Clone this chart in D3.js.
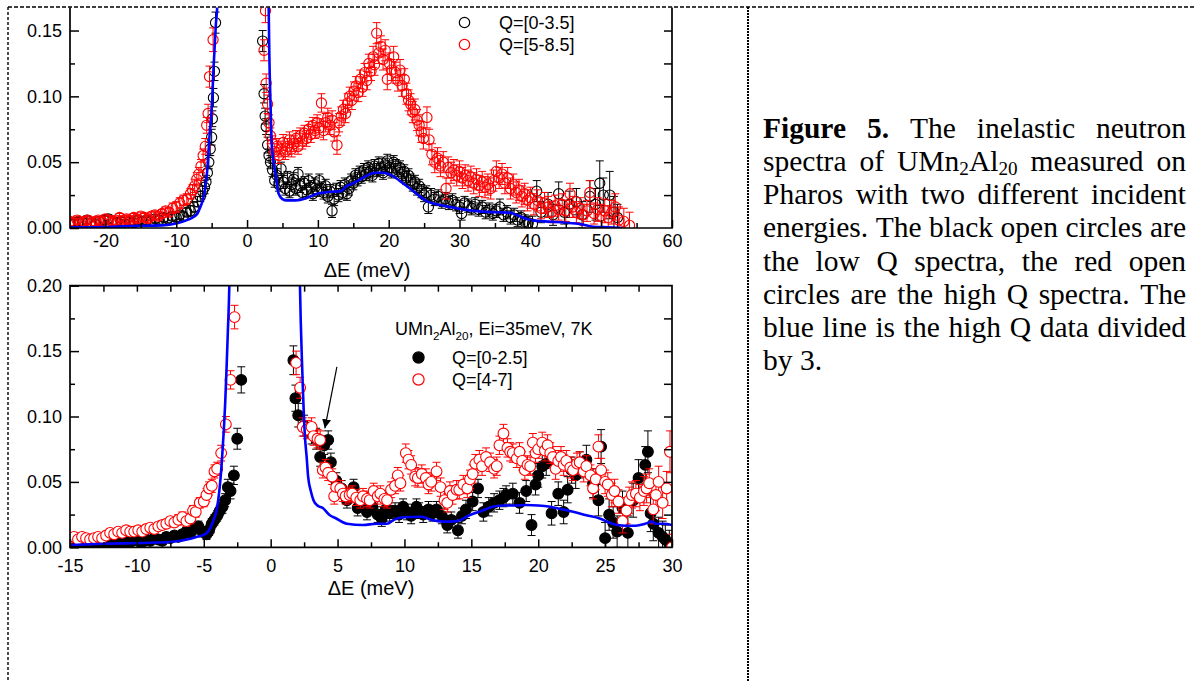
<!DOCTYPE html>
<html>
<head>
<meta charset="utf-8">
<script src="https://cdn.jsdelivr.net/npm/d3@7"></script>
<style>
  body { margin: 0; background: #fff; }
  svg { display: block; }
</style>
</head>
<body>
<svg id="fig" width="1194" height="681"></svg>
<script>
// ---- data: [energy transfer (meV), intensity, error] ----

// upper panel, Q=[0-3.5] (black open circles)
const topLowQ = [
  [-25,0.004,0.003],[-24.4,0.003,0.003],[-23.8,0.005,0.003],[-23.2,0.004,0.003],[-22.6,0.006,0.003],[-22,0.004,0.003],
  [-21.4,0.003,0.003],[-20.8,0.005,0.003],[-20.2,0.006,0.003],[-19.6,0.007,0.003],[-19,0.005,0.003],[-18.4,0.004,0.003],
  [-17.8,0.005,0.003],[-17.2,0.003,0.003],[-16.6,0.005,0.003],[-16,0.004,0.003],[-15.4,0.006,0.003],[-14.8,0.005,0.003],
  [-14.2,0.006,0.003],[-13.6,0.005,0.003],[-13,0.007,0.003],[-12.4,0.006,0.003],[-11.8,0.008,0.003],[-11.2,0.007,0.003],
  [-10.6,0.009,0.003],[-10,0.008,0.003],[-9.5,0.010,0.003],[-9,0.009,0.003],[-8.5,0.012,0.003],[-8,0.013,0.004],
  [-7.5,0.016,0.004],[-7,0.020,0.004],[-6.6,0.024,0.004],[-6.3,0.028,0.004],[-6,0.031,0.005],[-5.8,0.035,0.005],
  [-5.6,0.042,0.005],[-5.4,0.050,0.005],[-5.2,0.060,0.005],[-5.0,0.069,0.006],[-4.9,0.083,0.006],[-4.75,0.099,0.007],
  [-4.6,0.119,0.007],[-4.45,0.156,0.008],
  [2.2,0.142,0.008],[2.4,0.102,0.007],[2.55,0.085,0.006],[2.7,0.077,0.006],[2.9,0.063,0.006],[3.1,0.055,0.005],
  [3.3,0.050,0.005],[3.6,0.044,0.005],[3.9,0.036,0.005],[4.2,0.040,0.005],[4.5,0.033,0.005],[4.8,0.045,0.005],
  [5.1,0.035,0.005],[5.4,0.030,0.005],[5.7,0.038,0.005],[6.0,0.028,0.005],[6.3,0.033,0.005],[6.6,0.037,0.005],
  [6.9,0.030,0.005],[7.2,0.041,0.005],[7.5,0.032,0.005],[7.8,0.027,0.005],[8.1,0.034,0.005],[8.4,0.029,0.005],
  [8.7,0.036,0.005],[9.0,0.031,0.005],[9.3,0.026,0.005],[9.6,0.033,0.005],[9.9,0.029,0.005],[10.2,0.036,0.005],
  [10.5,0.030,0.005],[10.8,0.027,0.005],[11.1,0.032,0.005],[11.4,0.024,0.005],[11.7,0.028,0.005],[12.0,0.013,0.005],
  [12.3,0.022,0.005],[12.6,0.029,0.005],[12.9,0.025,0.005],[13.2,0.031,0.005],[13.5,0.027,0.005],[13.8,0.033,0.005],
  [14.1,0.026,0.005],[14.4,0.030,0.005],[14.7,0.036,0.005],[15.0,0.034,0.005],[15.3,0.040,0.005],[15.6,0.037,0.005],
  [15.9,0.042,0.005],[16.2,0.039,0.005],[16.5,0.044,0.005],[16.8,0.041,0.005],[17.1,0.046,0.005],[17.4,0.043,0.005],
  [17.7,0.040,0.005],[18.0,0.047,0.005],[18.3,0.044,0.005],[18.6,0.049,0.005],[18.9,0.045,0.005],[19.2,0.042,0.005],
  [19.5,0.048,0.005],[19.8,0.051,0.005],[20.1,0.046,0.005],[20.4,0.043,0.005],[20.7,0.050,0.005],[21.0,0.047,0.005],
  [21.3,0.044,0.005],[21.6,0.046,0.005],[21.9,0.041,0.005],[22.2,0.043,0.005],[22.5,0.038,0.005],[22.8,0.040,0.005],
  [23.1,0.036,0.005],[23.4,0.033,0.005],[23.7,0.035,0.005],[24.0,0.030,0.005],[24.3,0.032,0.005],[24.6,0.028,0.005],
  [25.0,0.025,0.005],[25.3,0.027,0.005],[25.6,0.016,0.005],[26.0,0.025,0.005],[26.5,0.022,0.005],[27.0,0.024,0.005],
  [27.5,0.020,0.005],[28.0,0.022,0.005],[28.5,0.019,0.005],[29.0,0.021,0.005],[29.5,0.018,0.005],[30.0,0.016,0.005],
  [30.3,0.011,0.005],[30.7,0.019,0.005],[31.2,0.017,0.005],[31.7,0.015,0.005],[32.2,0.018,0.005],[32.7,0.014,0.005],
  [33.2,0.016,0.005],[33.7,0.012,0.005],[34.2,0.014,0.005],[34.7,0.011,0.005],[35.2,0.013,0.005],[35.7,0.016,0.006],
  [36.2,0.010,0.005],[36.7,0.012,0.005],[37.2,0.008,0.005],[37.7,0.010,0.005],[38.2,0.006,0.005],[38.7,0.008,0.005],
  [39.2,0.005,0.005],[39.7,0.004,0.005],[40.3,0.003,0.006],[40.9,0.028,0.008],[41.5,0.012,0.008],[42.5,0.018,0.009],
  [43.2,0.010,0.008],[44.0,0.026,0.009],[44.8,0.012,0.009],[45.5,0.018,0.010],[46.5,0.020,0.010],[47.3,0.010,0.010],
  [48.4,0.024,0.012],[49.2,0.018,0.012],[49.8,0.034,0.017],[50.3,0.025,0.013],[51.2,0.025,0.018],[51.8,0.012,0.012],
  [52.3,0.008,0.010]
];

// upper panel, Q=[5-8.5] (red open circles)
const topHighQ = [
  [-25,0.005,0.003],[-24.5,0.004,0.003],[-24,0.006,0.003],[-23.5,0.004,0.003],[-23,0.005,0.003],[-22.5,0.006,0.003],
  [-22,0.004,0.003],[-21.5,0.005,0.003],[-21,0.006,0.003],[-20.5,0.005,0.003],[-20,0.007,0.003],[-19.5,0.006,0.003],
  [-19,0.005,0.003],[-18.5,0.006,0.003],[-18,0.008,0.003],[-17.5,0.006,0.003],[-17,0.007,0.003],[-16.5,0.006,0.003],
  [-16,0.008,0.003],[-15.5,0.007,0.003],[-15,0.009,0.003],[-14.5,0.008,0.003],[-14,0.007,0.003],[-13.5,0.009,0.003],
  [-13,0.010,0.003],[-12.5,0.009,0.003],[-12,0.011,0.003],[-11.5,0.013,0.003],[-11,0.012,0.003],[-10.5,0.015,0.004],
  [-10,0.016,0.004],[-9.5,0.019,0.004],[-9,0.021,0.004],[-8.5,0.022,0.004],[-8,0.026,0.004],[-7.7,0.029,0.004],
  [-7.4,0.032,0.005],[-7.1,0.037,0.005],[-6.8,0.041,0.005],[-6.5,0.047,0.005],[-6.2,0.055,0.005],[-5.9,0.062,0.006],
  [-5.7,0.078,0.006],[-5.5,0.087,0.007],[-5.3,0.115,0.008],[-4.8,0.143,0.009],
  [2.4,0.135,0.008],[2.6,0.165,0.009],[2.7,0.110,0.007],[2.9,0.094,0.007],[3.1,0.080,0.006],[3.3,0.070,0.006],
  [3.6,0.064,0.006],[3.9,0.058,0.006],[4.2,0.062,0.006],[4.5,0.055,0.006],[4.8,0.060,0.006],[5.1,0.065,0.006],
  [5.4,0.058,0.006],[5.7,0.062,0.006],[6.0,0.067,0.006],[6.3,0.060,0.006],[6.6,0.064,0.006],[6.9,0.068,0.006],
  [7.2,0.062,0.006],[7.5,0.070,0.006],[7.8,0.066,0.006],[8.1,0.072,0.006],[8.4,0.068,0.006],[8.7,0.075,0.006],
  [9.0,0.071,0.006],[9.3,0.078,0.006],[9.6,0.074,0.006],[9.9,0.080,0.006],[10.2,0.076,0.007],[10.5,0.095,0.007],
  [10.8,0.074,0.007],[11.1,0.080,0.007],[11.4,0.084,0.007],[11.7,0.078,0.007],[12.0,0.082,0.007],[12.3,0.073,0.007],
  [12.7,0.063,0.007],[13.0,0.080,0.007],[13.3,0.085,0.007],[13.6,0.090,0.007],[13.9,0.087,0.007],[14.2,0.095,0.007],
  [14.5,0.100,0.007],[14.8,0.097,0.007],[15.1,0.104,0.007],[15.4,0.108,0.007],[15.7,0.103,0.007],[16.0,0.113,0.007],
  [16.3,0.107,0.007],[16.6,0.118,0.007],[16.9,0.112,0.007],[17.2,0.125,0.007],[17.5,0.119,0.007],[17.8,0.130,0.008],
  [18.0,0.124,0.008],[18.3,0.148,0.008],[18.6,0.133,0.008],[18.9,0.138,0.008],[19.2,0.128,0.008],[19.5,0.135,0.008],
  [19.8,0.113,0.008],[20.1,0.125,0.008],[20.4,0.120,0.008],[20.7,0.130,0.008],[21.0,0.118,0.008],[21.3,0.112,0.008],
  [21.6,0.120,0.008],[21.9,0.108,0.008],[22.2,0.113,0.008],[22.5,0.102,0.008],[22.8,0.097,0.008],[23.1,0.094,0.008],
  [23.4,0.088,0.008],[23.7,0.090,0.008],[24.0,0.082,0.008],[24.3,0.078,0.008],[24.6,0.073,0.008],[24.9,0.068,0.008],
  [25.4,0.084,0.008],[25.7,0.067,0.008],[26.1,0.056,0.008],[26.5,0.050,0.008],[26.9,0.053,0.008],[27.3,0.047,0.008],
  [27.7,0.050,0.008],[28.1,0.030,0.008],[28.4,0.046,0.008],[28.8,0.042,0.008],[29.2,0.044,0.008],[29.6,0.040,0.008],
  [30.0,0.043,0.008],[30.4,0.038,0.008],[30.8,0.040,0.008],[31.2,0.036,0.008],[31.6,0.039,0.008],[32.0,0.034,0.008],
  [32.4,0.037,0.008],[32.8,0.032,0.008],[33.2,0.035,0.008],[33.6,0.031,0.008],[34.0,0.033,0.008],[34.4,0.030,0.008],
  [34.8,0.036,0.008],[35.2,0.043,0.008],[35.6,0.038,0.008],[36.0,0.041,0.008],[36.4,0.034,0.008],[36.8,0.038,0.008],
  [37.2,0.030,0.008],[37.6,0.033,0.008],[38.0,0.027,0.008],[38.4,0.029,0.008],[38.8,0.024,0.008],[39.2,0.026,0.008],
  [39.6,0.021,0.008],[40.0,0.023,0.008],[40.5,0.018,0.008],[41.0,0.021,0.008],[41.5,0.015,0.008],[42.0,0.019,0.008],
  [42.5,0.016,0.008],[43.0,0.012,0.008],[43.5,0.017,0.008],[44.0,0.014,0.008],[44.5,0.018,0.008],[45.0,0.013,0.008],
  [45.6,0.026,0.008],[46.0,0.016,0.008],[46.5,0.012,0.008],[47.0,0.015,0.008],[47.5,0.010,0.008],[48.0,0.013,0.008],
  [48.4,0.027,0.009],[49.0,0.011,0.008],[49.5,0.014,0.009],[50.0,0.009,0.009],[50.5,0.013,0.009],[51.0,0.008,0.009],
  [51.5,0.012,0.009],[52.0,0.016,0.010],[52.5,0.006,0.010],[53.2,0.005,0.010],[54.0,0.002,0.010]
];

// upper panel, high Q divided by 3 (blue line), two branches either side of the elastic line
const topBlueNeg = [
  [-25,0.0005],[-20,0.0008],[-16.9,0.0015],[-12,0.002],[-9.9,0.0036],[-8.5,0.006],[-7.5,0.0086],[-7.0,0.011],
  [-6.6,0.016],[-6.2,0.022],[-5.9,0.031],[-5.6,0.045],[-5.3,0.07],[-5.0,0.09],[-4.7,0.125],[-4.4,0.155],
  [-4.2,0.17],[-4.0,0.22]
];
const topBluePos = [
  [2.95,0.22],[3.05,0.168],[3.15,0.13],[3.3,0.097],[3.5,0.062],[3.75,0.05],[4.0,0.0416],[4.46,0.026],[5.0,0.022],
  [5.6,0.021],[6.9,0.021],[8.5,0.023],[9.9,0.026],[11,0.027],[12.2,0.0276],[13.2,0.028],[14.1,0.032],[15,0.034],
  [16,0.037],[17,0.040],[18,0.042],[19,0.042],[20,0.041],[21,0.038],[22,0.034],[23,0.030],[24.4,0.024],
  [25.5,0.020],[27.3,0.0175],[29.6,0.015],[32,0.013],[35,0.012],[37,0.0117],[38.5,0.009],[40,0.006],[42,0.005],
  [45,0.004],[47,0.003],[48.9,0.001],[51,0.0005],[53,0]
];

// lower panel, Q=[0-2.5] (black filled circles)
const botLowQ = [
  [-15,0.003,0.003],[-14.7,0.004,0.003],[-14.4,0.002,0.003],[-14.1,0.004,0.003],[-13.8,0.003,0.003],[-13.5,0.003,0.003],
  [-13.2,0.002,0.003],[-12.9,0.004,0.003],[-12.6,0.003,0.003],[-12.3,0.004,0.003],[-12,0.003,0.003],[-11.7,0.005,0.003],
  [-11.4,0.004,0.003],[-11.1,0.003,0.003],[-10.8,0.005,0.003],[-10.5,0.004,0.003],[-10.2,0.006,0.003],[-9.9,0.005,0.003],
  [-9.6,0.004,0.003],[-9.3,0.006,0.003],[-9,0.005,0.003],[-8.7,0.007,0.003],[-8.4,0.006,0.003],[-8.1,0.005,0.003],
  [-7.8,0.008,0.003],[-7.5,0.007,0.003],[-7.2,0.009,0.003],[-6.9,0.008,0.003],[-6.6,0.010,0.003],[-6.3,0.012,0.003],
  [-6.0,0.011,0.003],[-5.7,0.014,0.003],[-5.4,0.016,0.004],[-5.1,0.012,0.004],[-4.8,0.010,0.004],[-4.6,0.013,0.004],
  [-4.4,0.018,0.004],[-4.2,0.021,0.004],[-4.0,0.024,0.004],[-3.8,0.028,0.004],[-3.6,0.031,0.005],[-3.4,0.036,0.005],
  [-3.2,0.046,0.006],[-3.0,0.043,0.006],[-2.75,0.055,0.007],[-2.5,0.083,0.008],[-2.2,0.128,0.010],
  [1.7,0.143,0.011],[1.85,0.114,0.010],[2.06,0.101,0.009],[2.5,0.093,0.008],[3.06,0.087,0.008],[3.4,0.083,0.008],
  [3.7,0.069,0.007],[4.0,0.078,0.007],[4.3,0.082,0.007],[4.5,0.065,0.007],[4.9,0.051,0.006],[5.3,0.045,0.006],
  [5.7,0.036,0.006],[6.2,0.046,0.006],[6.5,0.030,0.006],[6.9,0.033,0.006],[7.2,0.027,0.006],[7.6,0.031,0.006],
  [8.0,0.025,0.006],[8.3,0.022,0.006],[8.6,0.029,0.006],[8.9,0.026,0.006],[9.3,0.028,0.006],[9.6,0.025,0.006],
  [9.9,0.031,0.006],[10.2,0.027,0.006],[10.5,0.024,0.006],[10.9,0.031,0.006],[11.1,0.028,0.006],[11.4,0.025,0.006],
  [11.8,0.029,0.006],[12.1,0.026,0.006],[12.4,0.029,0.006],[12.8,0.024,0.006],[13.2,0.017,0.006],[13.5,0.021,0.006],
  [14.0,0.013,0.006],[14.3,0.024,0.006],[14.6,0.029,0.007],[15.1,0.035,0.007],[15.5,0.045,0.007],[15.9,0.027,0.007],
  [16.3,0.031,0.007],[16.7,0.034,0.007],[17.1,0.036,0.007],[17.4,0.038,0.007],[17.6,0.040,0.007],[18.1,0.041,0.008],
  [18.6,0.034,0.008],[19.1,0.043,0.008],[19.5,0.017,0.008],[19.8,0.048,0.008],[20.0,0.055,0.009],[20.3,0.062,0.009],
  [20.6,0.064,0.009],[21.0,0.026,0.009],[21.5,0.041,0.009],[21.9,0.027,0.009],[22.2,0.044,0.010],[22.5,0.059,0.010],
  [22.8,0.055,0.010],[23.1,0.063,0.010],[23.6,0.067,0.011],[24.1,0.049,0.011],[24.5,0.036,0.012],[24.7,0.077,0.013],
  [25.0,0.007,0.012],[25.3,0.025,0.012],[25.6,0.019,0.012],[25.9,0.012,0.012],[26.3,0.030,0.013],[26.7,0.011,0.013],
  [27.1,0.036,0.013],[27.5,0.053,0.014],[28.0,0.063,0.014],[28.2,0.073,0.016],[28.4,0.026,0.014],[28.6,0.018,0.013],
  [29.0,0.011,0.012],[29.3,0.008,0.012],[29.5,0.006,0.011],[29.8,0.003,0.010]
];

// lower panel, Q=[4-7] (red open circles)
const botHighQ = [
  [-15,0.007,0.003],[-14.7,0.008,0.003],[-14.4,0.006,0.003],[-14.1,0.008,0.003],[-13.8,0.007,0.003],[-13.5,0.006,0.003],
  [-13.2,0.007,0.003],[-12.9,0.008,0.003],[-12.6,0.007,0.003],[-12.3,0.009,0.003],[-12,0.011,0.003],[-11.7,0.010,0.003],
  [-11.4,0.012,0.003],[-11.1,0.011,0.003],[-10.8,0.013,0.003],[-10.5,0.012,0.003],[-10.2,0.012,0.003],[-9.9,0.013,0.003],
  [-9.6,0.012,0.003],[-9.3,0.014,0.003],[-9,0.015,0.003],[-8.7,0.014,0.003],[-8.4,0.016,0.003],[-8.1,0.017,0.003],
  [-7.8,0.018,0.003],[-7.5,0.020,0.003],[-7.2,0.019,0.003],[-6.9,0.021,0.004],[-6.6,0.023,0.004],[-6.3,0.020,0.004],
  [-6.0,0.022,0.004],[-5.8,0.028,0.004],[-5.6,0.027,0.004],[-5.3,0.034,0.004],[-5.0,0.035,0.004],[-4.8,0.040,0.005],
  [-4.6,0.045,0.005],[-4.4,0.047,0.005],[-4.2,0.058,0.005],[-4.0,0.060,0.005],[-3.7,0.072,0.006],[-3.35,0.094,0.006],
  [-3.0,0.128,0.007],[-2.7,0.176,0.009],
  [1.9,0.141,0.009],[2.2,0.122,0.008],[2.4,0.092,0.007],[2.7,0.090,0.007],[3.06,0.092,0.007],[3.2,0.085,0.007],
  [3.5,0.083,0.007],[3.7,0.082,0.007],[3.9,0.059,0.006],[4.1,0.061,0.006],[4.3,0.057,0.006],[4.6,0.054,0.006],
  [4.75,0.039,0.006],[4.9,0.046,0.006],[5.2,0.045,0.006],[5.4,0.041,0.006],[5.6,0.039,0.006],[5.9,0.040,0.006],
  [6.1,0.041,0.006],[6.4,0.038,0.006],[6.7,0.036,0.006],[6.9,0.039,0.006],[7.2,0.037,0.006],[7.4,0.036,0.006],
  [7.7,0.043,0.006],[8.0,0.039,0.006],[8.2,0.041,0.006],[8.5,0.037,0.006],[8.7,0.036,0.006],[9.0,0.044,0.006],
  [9.3,0.047,0.006],[9.5,0.055,0.006],[9.7,0.049,0.006],[10.1,0.072,0.007],[10.3,0.067,0.007],[10.5,0.063,0.007],
  [10.8,0.054,0.007],[11.0,0.053,0.007],[11.3,0.056,0.007],[11.6,0.053,0.007],[11.8,0.048,0.007],[12.0,0.050,0.007],
  [12.4,0.058,0.007],[12.7,0.046,0.007],[13.0,0.036,0.007],[13.2,0.034,0.007],[13.4,0.043,0.007],[13.6,0.040,0.007],
  [13.9,0.044,0.007],[14.1,0.044,0.007],[14.4,0.048,0.007],[14.7,0.045,0.007],[14.9,0.052,0.007],[15.1,0.056,0.007],
  [15.3,0.064,0.007],[15.6,0.067,0.007],[15.8,0.062,0.007],[16.1,0.069,0.007],[16.4,0.065,0.007],[16.7,0.060,0.007],
  [16.9,0.062,0.007],[17.1,0.078,0.007],[17.4,0.087,0.007],[17.7,0.076,0.007],[17.9,0.073,0.007],[18.1,0.072,0.007],
  [18.4,0.068,0.007],[18.6,0.073,0.007],[18.8,0.066,0.007],[19.0,0.059,0.007],[19.2,0.063,0.007],[19.4,0.062,0.007],
  [19.6,0.080,0.007],[19.8,0.072,0.007],[20.0,0.075,0.007],[20.3,0.080,0.008],[20.5,0.074,0.008],[20.7,0.078,0.008],
  [20.9,0.072,0.008],[21.1,0.069,0.008],[21.3,0.060,0.008],[21.5,0.066,0.008],[21.7,0.069,0.008],[21.9,0.063,0.008],
  [22.1,0.066,0.008],[22.4,0.061,0.008],[22.6,0.059,0.008],[22.9,0.064,0.008],[23.1,0.065,0.008],[23.4,0.058,0.008],
  [23.6,0.062,0.008],[23.9,0.055,0.008],[24.1,0.045,0.008],[24.3,0.052,0.008],[24.5,0.077,0.009],[24.7,0.059,0.009],
  [25.0,0.050,0.009],[25.2,0.048,0.009],[25.5,0.040,0.009],[25.7,0.043,0.009],[26.0,0.035,0.009],[26.3,0.020,0.009],
  [26.6,0.028,0.010],[26.8,0.036,0.010],[27.0,0.040,0.010],[27.3,0.041,0.010],[27.6,0.038,0.010],[27.9,0.043,0.011],
  [28.1,0.045,0.011],[28.3,0.049,0.011],[28.6,0.029,0.011],[28.8,0.040,0.012],[29.0,0.050,0.012],[29.3,0.034,0.012],
  [29.6,0.045,0.013],[29.85,0.073,0.016],[30.0,0.0,0.010]
];

// lower panel, high Q divided by 3 (blue line)
const botBlueNeg = [
  [-15,0.0018],[-13,0.0025],[-11,0.003],[-9,0.0035],[-7.3,0.0043],[-6,0.0065],[-5.5,0.008],[-5,0.0095],
  [-4.8,0.0107],[-4.5,0.015],[-4.3,0.02],[-4.04,0.0285],[-3.85,0.042],[-3.66,0.064],[-3.5,0.09],[-3.4,0.11],
  [-3.3,0.136],[-3.2,0.165],[-3.09,0.2],[-3.0,0.26]
];
const botBluePos = [
  [2.1,0.26],[2.19,0.2],[2.36,0.136],[2.56,0.085],[2.69,0.069],[2.8,0.054],[3.0,0.043],[3.2,0.036],[3.5,0.032],
  [3.9,0.030],[4.4,0.0247],[4.9,0.022],[5.7,0.018],[6.9,0.017],[7.9,0.018],[8.7,0.018],[9.2,0.021],[9.9,0.023],
  [11.3,0.0234],[12.0,0.021],[12.9,0.0196],[13.9,0.020],[14.9,0.0247],[15.8,0.028],[16.6,0.031],[17.5,0.032],
  [18.3,0.032],[19.1,0.0323],[20.0,0.032],[20.9,0.031],[21.8,0.029],[22.6,0.0272],[23.6,0.0245],[24.6,0.022],
  [25.3,0.019],[25.9,0.017],[26.6,0.0165],[27.3,0.0165],[28.0,0.018],[28.5,0.0196],[28.8,0.018],[29.4,0.018],[30,0.017]
];

// arrow annotation in the lower panel, [energy, intensity] of tail and tip
const arrowFrom = [4.95, 0.138];
const arrowTo = [4.05, 0.091];

// tick values
const topXMajor = [-20, -10, 0, 10, 20, 30, 40, 50, 60];
const topXMinor = [-15, -5, 5, 15, 25, 35, 45, 55];
const topYMajor = [0, 0.05, 0.10, 0.15];
const topYMinor = [0.025, 0.075, 0.125];
const topYRight = [0.025, 0.05, 0.075, 0.10, 0.125, 0.15];
const botXMajor = [-15, -10, -5, 0, 5, 10, 15, 20, 25, 30];
const botXMinor = [-12.5, -7.5, -2.5, 2.5, 7.5, 12.5, 17.5, 22.5, 27.5];
const botXTop = [-12.5, -10, -7.5, -5, -2.5, 0, 2.5, 5, 7.5, 10, 12.5, 15, 17.5, 20, 22.5, 25, 27.5];
const botYMajor = [0, 0.05, 0.10, 0.15, 0.20];
const botYMinor = [0.025, 0.075, 0.125, 0.175];
const botYRight = [0.025, 0.05, 0.075, 0.10, 0.125, 0.15, 0.175];

const captionLines = [
  '*Figure* *5.* The inelastic neutron',
  'spectra of UMn~2~Al~20~ measured on',
  'Pharos with two different incident',
  'energies. The black open circles are',
  'the low Q spectra, the red open',
  'circles are the high Q spectra. The',
  'blue line is the high Q data divided',
  'by 3.'
];

// ---- drawing ----
const SANS = '"Liberation Sans", Arial, Helvetica, sans-serif';
const SERIF = '"Liberation Serif", "Times New Roman", serif';
const RED = '#ff0000';
const BLUE = '#0000ff';

const svg = d3.select('#fig');
svg.append('rect').attr('width', 1194).attr('height', 681).attr('fill', '#fff');

// splits "UMn~2~Al~20~" into plain / subscript / bold runs
function parseRuns(word) {
  return word.split(/(\*[^*]+\*|~[^~]+~)/).filter((s) => s.length).map((s) => {
    if (s[0] === '*') return { t: s.slice(1, -1), bold: true };
    if (s[0] === '~') return { t: s.slice(1, -1), sub: true };
    return { t: s };
  });
}

function appendRuns(text, word, subShift) {
  let down = false;
  parseRuns(word).forEach((r) => {
    const ts = text.append('tspan').text(r.t);
    if (r.bold) ts.attr('font-weight', 'bold');
    if (r.sub && !down) { ts.attr('font-size', '0.65em').attr('dy', subShift); down = true; }
    else if (r.sub) ts.attr('font-size', '0.65em');
    else if (down) { ts.attr('dy', -subShift); down = false; }
  });
}

function drawPanel(cfg) {
  const x = d3.scaleLinear().domain(cfg.xDomain).range([cfg.left, cfg.right]);
  const y = d3.scaleLinear().domain(cfg.yDomain).range([cfg.bottom, cfg.top]);
  const g = svg.append('g');

  g.append('clipPath').attr('id', cfg.id + '-clip')
    .append('rect')
    .attr('x', cfg.left).attr('y', cfg.top)
    .attr('width', cfg.right - cfg.left).attr('height', cfg.bottom - cfg.top);

  const plot = g.append('g').attr('clip-path', `url(#${cfg.id}-clip)`);

  const drawSeries = (data, color, fill, r) => {
    plot.append('g')
      .attr('stroke', color).attr('stroke-width', 1).attr('fill', 'none')
      .selectAll('path').data(data).join('path')
      .attr('d', (d) => {
        const cx = x(d[0]);
        const y1 = y(d[1] - d[2]);
        const y2 = y(d[1] + d[2]);
        return `M${cx},${y1}V${y2}M${cx - 4},${y1}H${cx + 4}M${cx - 4},${y2}H${cx + 4}`;
      });
    plot.append('g')
      .selectAll('circle').data(data).join('circle')
      .attr('cx', (d) => x(d[0]))
      .attr('cy', (d) => y(d[1]))
      .attr('r', r)
      .attr('fill', fill)
      .attr('stroke', color)
      .attr('stroke-width', 1.1);
  };

  drawSeries(cfg.low, '#000', cfg.lowFill, cfg.r);
  drawSeries(cfg.high, RED, cfg.highFill, cfg.r);

  const line = d3.line().x((d) => x(d[0])).y((d) => y(d[1])).curve(d3.curveMonotoneX);
  [cfg.blueNeg, cfg.bluePos].forEach((b) => {
    plot.append('path').datum(b)
      .attr('d', line)
      .attr('fill', 'none')
      .attr('stroke', BLUE)
      .attr('stroke-width', 2.6);
  });

  // axes
  const axes = g.append('g');
  const styleAxis = (a) => {
    a.select('.domain').remove();
    a.selectAll('line').attr('stroke', '#000').attr('stroke-width', 1.5);
    a.selectAll('text').attr('font-family', SANS).attr('font-size', 18).attr('fill', '#000');
  };
  axes.append('g').attr('transform', `translate(0,${cfg.bottom})`)
    .call(d3.axisBottom(x).tickValues(cfg.xMinor).tickSize(-5).tickFormat(''))
    .call(styleAxis);
  axes.append('g').attr('transform', `translate(0,${cfg.bottom})`)
    .call(d3.axisBottom(x).tickValues(cfg.xMajor).tickSize(-8).tickPadding(cfg.xPad).tickFormat((d) => String(d)))
    .call(styleAxis);
  axes.append('g').attr('transform', `translate(${cfg.left},0)`)
    .call(d3.axisLeft(y).tickValues(cfg.yMinor).tickSize(-5).tickFormat(''))
    .call(styleAxis);
  axes.append('g').attr('transform', `translate(${cfg.left},0)`)
    .call(d3.axisLeft(y).tickValues(cfg.yMajor).tickSize(-9).tickPadding(cfg.yPad).tickFormat(d3.format('.2f')))
    .call(styleAxis);
  axes.append('g').attr('transform', `translate(${cfg.right},0)`)
    .call(d3.axisRight(y).tickValues(cfg.yRight).tickSize(-8).tickFormat(''))
    .call(styleAxis);
  if (cfg.xTop) {
    axes.append('g').attr('transform', `translate(0,${cfg.top})`)
      .call(d3.axisTop(x).tickValues(cfg.xTop).tickSize(-6).tickFormat(''))
      .call(styleAxis);
  }

  // frame
  const frame = cfg.topEdge
    ? `M${cfg.left},${cfg.top}H${cfg.right}V${cfg.bottom}H${cfg.left}Z`
    : `M${cfg.left},${cfg.top}V${cfg.bottom}H${cfg.right}V${cfg.top}`;
  axes.append('path').attr('d', frame).attr('fill', 'none')
    .attr('stroke', '#000').attr('stroke-width', 1.7);

  g.append('text')
    .attr('x', cfg.labelX).attr('y', cfg.labelY)
    .attr('text-anchor', 'middle')
    .attr('font-family', SANS).attr('font-size', 20)
    .text('ΔE (meV)');

  return { x, y, g };
}

const topPanel = drawPanel({
  id: 'top', xDomain: [-25, 60], yDomain: [0, 0.1675],
  left: 70, right: 672, top: 7.5, bottom: 228,
  low: topLowQ, high: topHighQ, lowFill: 'none', highFill: 'none', r: 5.1,
  blueNeg: topBlueNeg, bluePos: topBluePos,
  xMajor: topXMajor, xMinor: topXMinor, yMajor: topYMajor, yMinor: topYMinor, yRight: topYRight,
  xPad: 6, yPad: 8, topEdge: false, labelX: 367, labelY: 277
});

const botPanel = drawPanel({
  id: 'bot', xDomain: [-15, 30], yDomain: [0, 0.20],
  left: 70, right: 672, top: 285.7, bottom: 547.3,
  low: botLowQ, high: botHighQ, lowFill: '#000', highFill: '#fff', r: 5.4,
  blueNeg: botBlueNeg, bluePos: botBluePos,
  xMajor: botXMajor, xMinor: botXMinor, xTop: botXTop, yMajor: botYMajor, yMinor: botYMinor, yRight: botYRight,
  xPad: 12, yPad: 8, topEdge: true, labelX: 371, labelY: 595
});

// arrow
svg.append('defs').append('marker')
  .attr('id', 'head').attr('viewBox', '0 0 10 10')
  .attr('refX', 10).attr('refY', 5)
  .attr('markerWidth', 9).attr('markerHeight', 9)
  .attr('markerUnits', 'userSpaceOnUse')
  .attr('orient', 'auto')
  .append('path').attr('d', 'M0,0L10,5L0,10Z').attr('fill', '#000');
svg.append('line')
  .attr('x1', botPanel.x(arrowFrom[0])).attr('y1', botPanel.y(arrowFrom[1]))
  .attr('x2', botPanel.x(arrowTo[0])).attr('y2', botPanel.y(arrowTo[1]))
  .attr('stroke', '#000').attr('stroke-width', 1.2)
  .attr('marker-end', 'url(#head)');

// legends
const legTop = svg.append('g').attr('font-family', SANS).attr('font-size', 18);
[['Q=[0-3.5]', '#000', 22.5], ['Q=[5-8.5]', RED, 44.5]].forEach(([label, color, cy]) => {
  legTop.append('circle').attr('cx', 464.5).attr('cy', cy).attr('r', 5.2)
    .attr('fill', 'none').attr('stroke', color).attr('stroke-width', 1.2);
  legTop.append('text').attr('x', 499).attr('y', cy + 6.5).text(label);
});

const legBot = svg.append('g').attr('font-family', SANS).attr('font-size', 18);
const legTitle = legBot.append('text').attr('x', 395).attr('y', 335);
appendRuns(legTitle, 'UMn~2~Al~20~, Ei=35meV, 7K', 5);
[['Q=[0-2.5]', '#000', '#000', 357.5], ['Q=[4-7]', RED, '#fff', 379.5]].forEach(([label, color, fill, cy]) => {
  legBot.append('circle').attr('cx', 418.5).attr('cy', cy).attr('r', 5.6)
    .attr('fill', fill).attr('stroke', color).attr('stroke-width', 1.2);
  legBot.append('text').attr('x', 452).attr('y', cy + 6.5).text(label);
});

// caption, justified between capLeft and capRight
const capLeft = 763;
const capRight = 1186;
const cap = svg.append('g').attr('font-family', SERIF).attr('font-size', 29.5).attr('fill', '#000');
captionLines.forEach((ln, i) => {
  const baseline = 138 + i * 33.15;
  const words = ln.split(' ');
  const nodes = words.map((w) => {
    const t = cap.append('text').attr('y', baseline);
    appendRuns(t, w, 3.5);
    return t;
  });
  const widths = nodes.map((t) => t.node().getComputedTextLength());
  const total = d3.sum(widths);
  const last = i === captionLines.length - 1;
  const gap = last ? 7.4 : (capRight - capLeft - total) / (words.length - 1);
  let xPos = capLeft;
  nodes.forEach((t, k) => {
    t.attr('x', xPos);
    xPos += widths[k] + gap;
  });
});

// page frame (dashed box of the original document)
svg.append('line').attr('x1', 8).attr('y1', 7).attr('x2', 1194).attr('y2', 7)
  .attr('stroke', '#000').attr('stroke-width', 1.3).attr('stroke-dasharray', '4,2');
svg.append('line').attr('x1', 8).attr('y1', 7).attr('x2', 8).attr('y2', 681)
  .attr('stroke', '#000').attr('stroke-width', 1.4).attr('stroke-dasharray', '3,2');
svg.append('line').attr('x1', 748).attr('y1', 7).attr('x2', 748).attr('y2', 681)
  .attr('stroke', '#000').attr('stroke-width', 2).attr('stroke-dasharray', '2,1');
</script>
</body>
</html>
